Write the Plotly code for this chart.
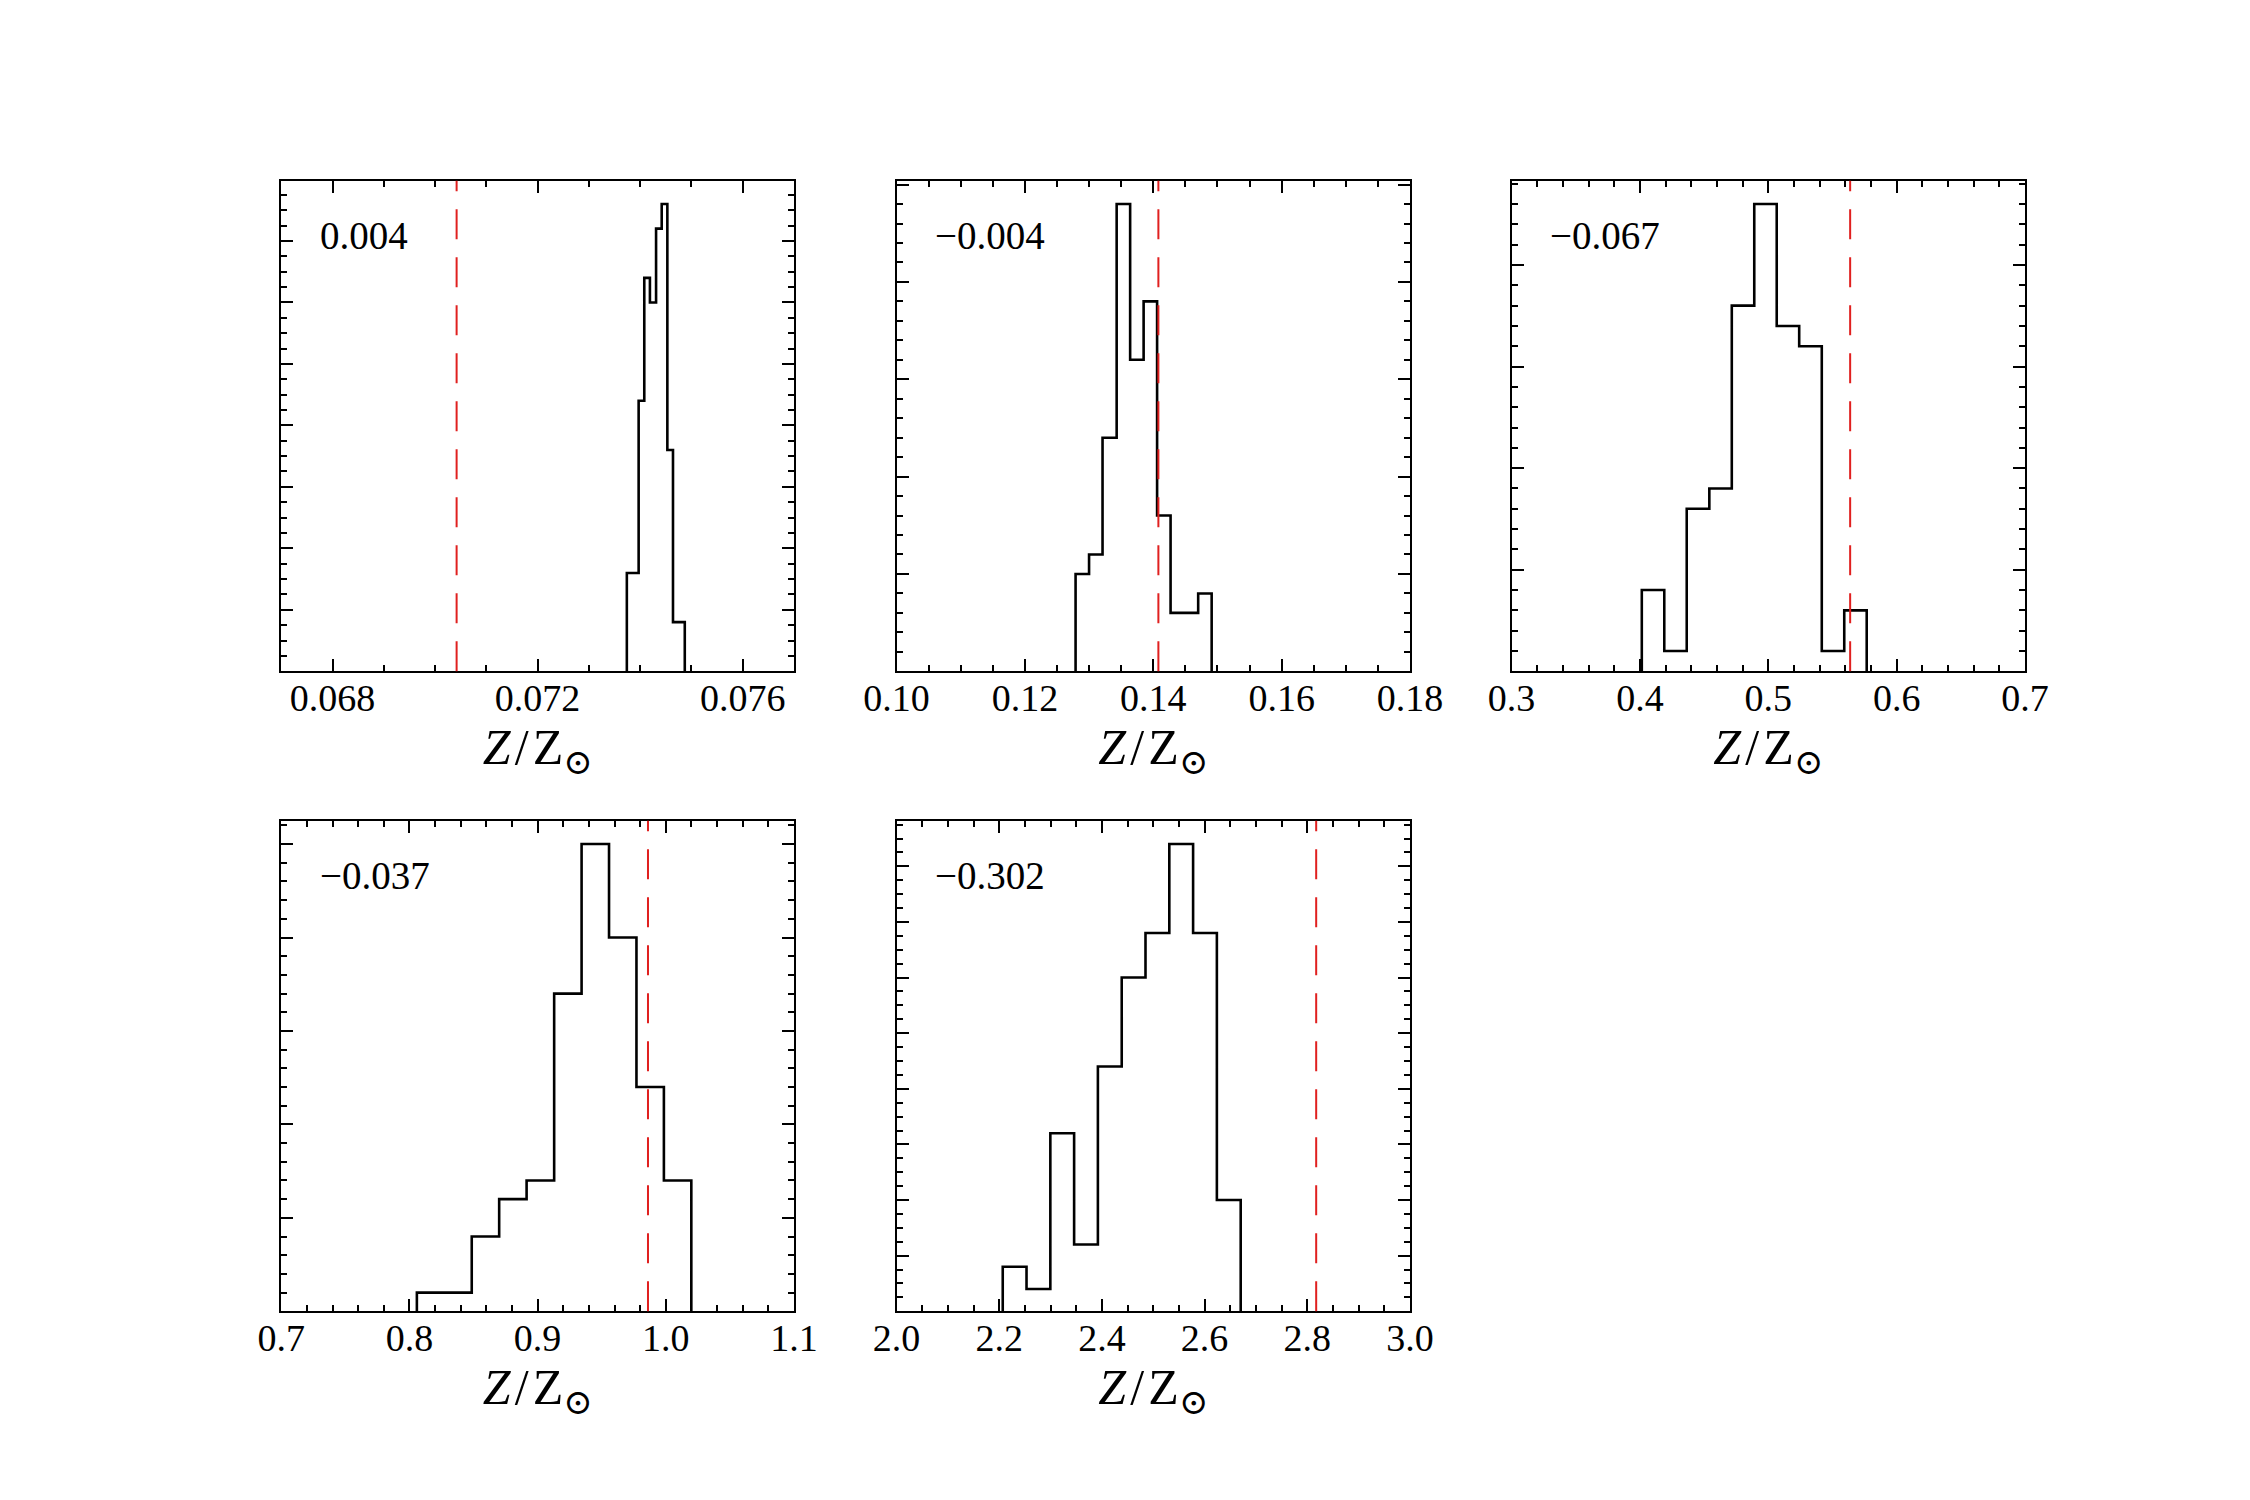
import plotly.graph_objects as go

# ---------------- data ----------------
labels = ["0.004", "\u22120.004", "\u22120.067", "\u22120.037", "\u22120.302"]

edges_1 = [0.07374, 0.07385, 0.07397, 0.07408, 0.07419, 0.07431, 0.07442, 0.07453, 0.07464, 0.07476, 0.07487]
counts_1 = [4, 4, 11, 16, 15, 18, 19, 9, 2, 2]
ref_1 = 0.07042

edges_2 = [0.1279, 0.1300, 0.1321, 0.1343, 0.1364, 0.1385, 0.1406, 0.1427, 0.1449, 0.1470, 0.1491]
counts_2 = [5, 6, 12, 24, 16, 19, 8, 3, 3, 4]
ref_2 = 0.1408

edges_3 = [0.4015, 0.4190, 0.4365, 0.4541, 0.4716, 0.4891, 0.5066, 0.5241, 0.5417, 0.5592, 0.5767]
counts_3 = [4, 1, 8, 9, 18, 23, 17, 16, 1, 3]
ref_3 = 0.5638

edges_4 = [0.8058, 0.8272, 0.8486, 0.8700, 0.8914, 0.9129, 0.9343, 0.9557, 0.9771, 0.9985, 1.0199]
counts_4 = [1, 1, 4, 6, 7, 17, 25, 20, 12, 7]
ref_4 = 0.9861

edges_5 = [2.2069, 2.2532, 2.2996, 2.3459, 2.3922, 2.4386, 2.4849, 2.5313, 2.5776, 2.6239, 2.6703]
counts_5 = [2, 1, 8, 3, 11, 15, 17, 21, 17, 5]
ref_5 = 2.8173

x_ranges = [[0.067, 0.077], [0.10, 0.18], [0.3, 0.7], [0.7, 1.1], [2.0, 3.0]]
x_dticks = [0.004, 0.02, 0.1, 0.1, 0.2]
x_minor = [0.001, 0.005, 0.02, 0.02, 0.05]
x_tickformats = [".3f", ".2f", ".1f", ".1f", ".1f"]
y_dticks = [2.5, 5, 5, 5, 2.5]
y_minor = [0.625, 1, 1, 1, 0.625]

edges_all = [edges_1, edges_2, edges_3, edges_4, edges_5]
counts_all = [counts_1, counts_2, counts_3, counts_4, counts_5]
refs = [ref_1, ref_2, ref_3, ref_4, ref_5]

# ---------------- layout geometry ----------------
W, H = 2250, 1500
col_px = [(281.25, 794.0), (896.5, 1410.0), (1511.5, 2025.0)]
row_px = [(180.7, 671.3), (820.7, 1311.3)]
cells = [(0, 0), (0, 1), (0, 2), (1, 0), (1, 1)]

FONT = "Liberation Serif, DejaVu Serif, serif"
fig = go.Figure()
layout = dict(
    width=W, height=H,
    margin=dict(l=0, r=0, t=0, b=0, autoexpand=False),
    paper_bgcolor="white", plot_bgcolor="white",
    showlegend=False,
    font=dict(family=FONT, color="black", size=38),
)
annotations = []
shapes = []

for i in range(5):
    r, c = cells[i]
    n = i + 1
    xa = "x" if n == 1 else f"x{n}"
    ya = "y" if n == 1 else f"y{n}"
    e = edges_all[i]
    cnt = counts_all[i]
    xs = [e[0]] + list(e)
    ys = [0] + list(cnt) + [0]
    fig.add_trace(go.Scatter(
        x=xs, y=ys, mode="lines", line=dict(color="black", width=2.6, shape="hv"),
        xaxis=xa, yaxis=ya, hoverinfo="skip"))
    ymax = max(cnt) * 1.05
    x0, x1 = col_px[c]
    y0, y1 = row_px[r]
    xdom = [x0 / W, x1 / W]
    ydom = [1 - y1 / H, 1 - y0 / H]
    axkey = "xaxis" if n == 1 else f"xaxis{n}"
    aykey = "yaxis" if n == 1 else f"yaxis{n}"
    layout[axkey] = dict(
        domain=xdom, anchor=ya, range=x_ranges[i], automargin=False,
        tick0=0, dtick=x_dticks[i], tickformat=x_tickformats[i],
        ticks="inside", ticklen=12, tickwidth=2, tickcolor="black",
        ticklabelstandoff=-8,
        minor=dict(ticks="inside", ticklen=6, tickwidth=2, tickcolor="black", dtick=x_minor[i], tick0=0),
        showline=True, linewidth=2, linecolor="black", mirror="allticks",
        showgrid=False, zeroline=False,
        tickfont=dict(family=FONT, size=38, color="black"),
        title=dict(text="<i>Z</i>\u200a/\u200aZ<sub>\u2299</sub>", font=dict(family=FONT, size=50, color="black"), standoff=0),
    )
    layout[aykey] = dict(
        domain=ydom, anchor=xa, range=[0, ymax], automargin=False,
        tick0=0, dtick=y_dticks[i], showticklabels=False,
        ticks="inside", ticklen=12, tickwidth=2, tickcolor="black",
        minor=dict(ticks="inside", ticklen=6, tickwidth=2, tickcolor="black", dtick=y_minor[i], tick0=0),
        showline=True, linewidth=2, linecolor="black", mirror="allticks",
        showgrid=False, zeroline=False,
    )
    shapes.append(dict(
        type="line", xref=xa, yref=f"{ya} domain", x0=refs[i], x1=refs[i], y0=0, y1=1,
        line=dict(color="#e0201f", width=2, dash="30px,18px")))
    annotations.append(dict(
        text=labels[i], xref=f"{xa} domain", yref=f"{ya} domain", x=0.072, y=0.889,
        xanchor="left", yanchor="middle", showarrow=False,
        font=dict(family=FONT, size=39, color="black")))

layout["annotations"] = annotations
layout["shapes"] = shapes
fig.update_layout(**layout)
fig.write_html("out.html")
